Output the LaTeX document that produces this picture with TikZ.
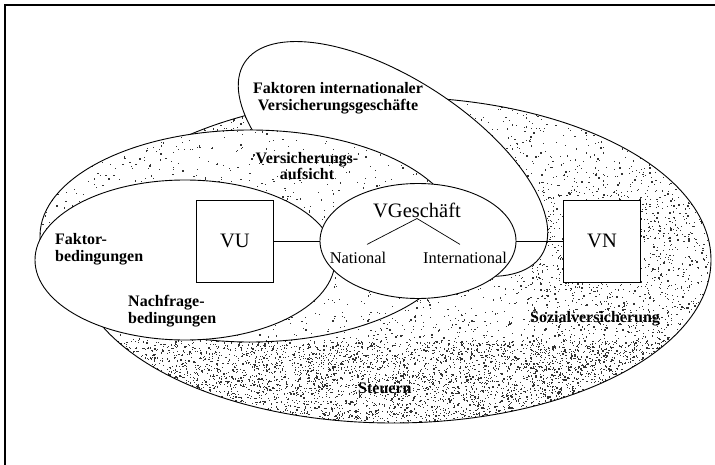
\documentclass[tikz,border=0pt]{standalone}
\usepackage{fontspec}
\setmainfont{Liberation Serif}
\usetikzlibrary{shapes.geometric,calc}

\tikzset{
  outline/.style={line width=0.9pt},
  thinline/.style={line width=0.7pt},
  labelbold/.style={font=\fontsize{16}{16.5}\selectfont\bfseries, inner sep=0pt},
  labelbig/.style={font=\fontsize{20.5}{24}\selectfont, inner sep=0pt},
  labelmid/.style={font=\fontsize{16.4}{19}\selectfont, inner sep=0pt},
  boxnode/.style={draw, line width=0.9pt, fill=white, minimum width=77pt,
    minimum height=82pt, inner sep=0pt, font=\fontsize{20.5}{24}\selectfont},
  speck/.style={fill=black!80},
}

% scatter #5 small square specks over the box centred at (#1,#2), half sizes #3,#4
\newcommand\scatterspecks[5]{%
  \foreach \k in {1,...,#5}{%
    \pgfmathsetmacro\sz{0.7+0.9*rnd}%
    \fill[speck] ({#1+#3*rand},{#2+#4*rand}) rectangle ++(\sz,\sz);%
  }}

\begin{document}
\begin{tikzpicture}[x=1pt,y=-1pt]
\useasboundingbox (0,0) rectangle (715,465);
\pgfmathsetseed{4711}

% frame
\draw[line width=1.2pt] (5,465) -- (5,5) -- (715,5);

% taxes: large stippled ellipse, densest along the bottom
\begin{scope}
  \clip (393,260) ellipse [x radius=318pt, y radius=163pt];
  \fill[white] (393,260) ellipse [x radius=318pt, y radius=163pt];
  \scatterspecks{393}{260}{318}{163}{5000}
  \scatterspecks{393}{385}{310}{45}{4500}
  \scatterspecks{620}{300}{90}{110}{1000}
\end{scope}
\draw[outline] (393,260) ellipse [x radius=318pt, y radius=163pt];

% international business factors (tilted, white)
\draw[outline, fill=white, rotate around={-33:(393,159)}]
  (393,159) ellipse [x radius=177pt, y radius=80pt];

% supervision: lightly stippled ellipse
\begin{scope}
  \clip (250,236) ellipse [x radius=210pt, y radius=106pt];
  \fill[white] (250,236) ellipse [x radius=210pt, y radius=106pt];
  \scatterspecks{250}{236}{210}{106}{1100}
\end{scope}
\draw[outline] (250,236) ellipse [x radius=210pt, y radius=106pt];

% factor and demand conditions (white)
\draw[outline, fill=white] (185,260) ellipse [x radius=150pt, y radius=80pt];

% insurance business
\node[draw, ellipse, outline, fill=white, minimum width=196pt,
      minimum height=115pt, inner sep=0pt] (vg) at (418,241) {};

% boxes
\node[boxnode] (vu) at (235,241) {VU};
\node[boxnode] (vn) at (602,241) {VN};
\draw[outline] (vu) -- (vg);
\draw[outline] (vg) -- (vn);

% business split
\node[labelbig, anchor=base] (vgt) at (417,218) {VGeschäft};
\node[labelmid, anchor=base] (nat) at (358,263) {National};
\node[labelmid, anchor=base] (intl) at (465,263) {International};
\draw[thinline] (vgt.south) -- ([shift={(9,-7)}]nat.north);
\draw[thinline] (vgt.south) -- ([shift={(-5,-7)}]intl.north);

% labels
\node[labelbold, align=center] (fint) at (338,98)
  {Faktoren internationaler\\Versicherungsgeschäfte};
\node[labelbold, align=center] (vauf) at (307,166) {Versicherungs-\\aufsicht};
\node[labelbold, align=left, anchor=west] (fak) at (55,249) {Faktor-\\bedingungen};
\node[labelbold, align=left, anchor=west] (nach) at (128,311) {Nachfrage-\\bedingungen};
\node[labelbold, anchor=base west] (soz) at (530,322) {Sozialversicherung};
\node[labelbold, anchor=base west] (st) at (358,393) {Steuern};
\end{tikzpicture}
\end{document}
